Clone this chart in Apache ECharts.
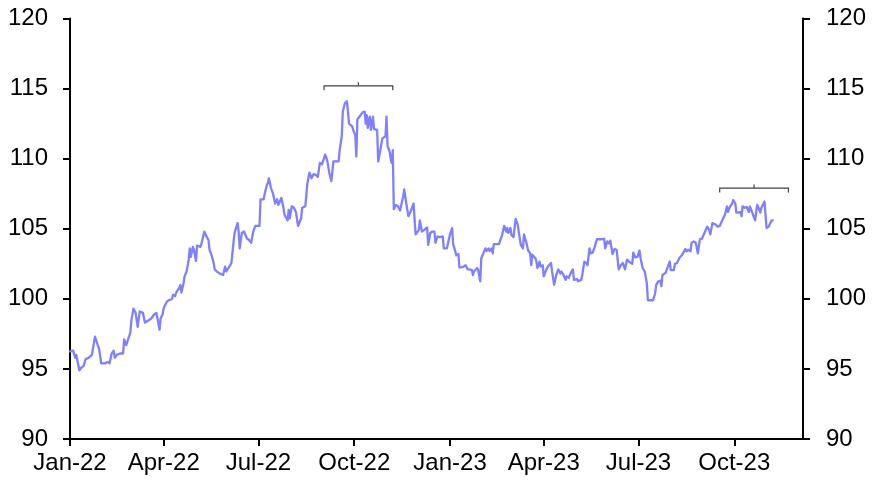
<!DOCTYPE html>
<html>
<head>
<meta charset="utf-8">
<script src="https://cdn.jsdelivr.net/npm/echarts@6/dist/echarts.min.js"></script>
<style>
html,body{margin:0;padding:0;background:#fff;}
#chart{width:873px;height:482px;}
</style>
</head>
<body>
<div id="chart"></div>
<script>
// ---- data ----
const axisStart = '2022-01-01';
const axisEnd = '2023-12-06';
const tickDates = ['2022-01-01','2022-04-01','2022-07-01','2022-10-01','2023-01-01','2023-04-01','2023-07-01','2023-10-01'];
const tickLabels = ['Jan-22','Apr-22','Jul-22','Oct-22','Jan-23','Apr-23','Jul-23','Oct-23'];
const yTicks = [90, 95, 100, 105, 110, 115, 120];

const dates = [
'2022-01-01','2022-01-04','2022-01-06','2022-01-07','2022-01-10','2022-01-12','2022-01-14','2022-01-16','2022-01-19','2022-01-22',
'2022-01-25','2022-01-27','2022-01-29','2022-01-31','2022-02-04','2022-02-06','2022-02-08','2022-02-10','2022-02-12','2022-02-13',
'2022-02-15','2022-02-18','2022-02-21','2022-02-22','2022-02-24','2022-02-25','2022-02-28','2022-03-01','2022-03-03','2022-03-05',
'2022-03-07','2022-03-09','2022-03-12','2022-03-14','2022-03-16','2022-03-20','2022-03-23','2022-03-25','2022-03-28','2022-03-29',
'2022-03-31','2022-04-01','2022-04-04','2022-04-06','2022-04-09','2022-04-10','2022-04-12','2022-04-13','2022-04-16','2022-04-17',
'2022-04-18','2022-04-20','2022-04-21','2022-04-23','2022-04-25','2022-04-26','2022-04-27','2022-04-29','2022-04-30','2022-05-02',
'2022-05-03','2022-05-06','2022-05-07','2022-05-10','2022-05-12','2022-05-14','2022-05-15','2022-05-17','2022-05-19','2022-05-20',
'2022-05-22','2022-05-25','2022-05-28','2022-05-30','2022-05-31','2022-06-03','2022-06-05','2022-06-07','2022-06-08','2022-06-11',
'2022-06-12','2022-06-13','2022-06-15','2022-06-17','2022-06-20','2022-06-22','2022-06-24','2022-06-26','2022-06-28','2022-06-29',
'2022-07-02','2022-07-03','2022-07-06','2022-07-07','2022-07-09','2022-07-10','2022-07-11','2022-07-13','2022-07-15','2022-07-17',
'2022-07-19','2022-07-20','2022-07-23','2022-07-25','2022-07-26','2022-07-29','2022-07-30','2022-07-31','2022-08-02','2022-08-04',
'2022-08-06','2022-08-08','2022-08-11','2022-08-12','2022-08-15','2022-08-17','2022-08-19','2022-08-21','2022-08-23','2022-08-25',
'2022-08-27','2022-08-29','2022-08-31','2022-09-01','2022-09-03','2022-09-05','2022-09-07','2022-09-09','2022-09-11','2022-09-14',
'2022-09-16','2022-09-17','2022-09-19','2022-09-20','2022-09-22','2022-09-24','2022-09-25','2022-09-26','2022-09-29','2022-09-30',
'2022-10-02','2022-10-03','2022-10-04','2022-10-07','2022-10-09','2022-10-11','2022-10-12','2022-10-13','2022-10-14','2022-10-15',
'2022-10-16','2022-10-17','2022-10-19','2022-10-20','2022-10-23','2022-10-24','2022-10-26','2022-10-28','2022-10-31','2022-11-01',
'2022-11-02','2022-11-04','2022-11-05','2022-11-06','2022-11-07','2022-11-08','2022-11-10','2022-11-12','2022-11-14','2022-11-17',
'2022-11-18','2022-11-20','2022-11-22','2022-11-24','2022-11-27','2022-11-28','2022-11-29','2022-12-02','2022-12-03','2022-12-05',
'2022-12-07','2022-12-10','2022-12-11','2022-12-13','2022-12-15','2022-12-17','2022-12-18','2022-12-20','2022-12-22','2022-12-25',
'2022-12-26','2022-12-29','2022-12-30','2023-01-01','2023-01-03','2023-01-04','2023-01-06','2023-01-07','2023-01-09','2023-01-10',
'2023-01-12','2023-01-14','2023-01-16','2023-01-18','2023-01-20','2023-01-22','2023-01-23','2023-01-24','2023-01-27','2023-01-28',
'2023-01-30','2023-01-31','2023-02-02','2023-02-04','2023-02-05','2023-02-07','2023-02-08','2023-02-10','2023-02-11','2023-02-12',
'2023-02-15','2023-02-17','2023-02-20','2023-02-22','2023-02-24','2023-02-25','2023-02-26','2023-02-28','2023-03-01','2023-03-03',
'2023-03-05','2023-03-07','2023-03-09','2023-03-10','2023-03-12','2023-03-13','2023-03-15','2023-03-17','2023-03-19','2023-03-20',
'2023-03-21','2023-03-24','2023-03-25','2023-03-26','2023-03-28','2023-03-29','2023-03-31','2023-04-01','2023-04-03','2023-04-05',
'2023-04-08','2023-04-09','2023-04-11','2023-04-13','2023-04-15','2023-04-17','2023-04-18','2023-04-20','2023-04-22','2023-04-23',
'2023-04-25','2023-04-27','2023-04-29','2023-04-30','2023-05-03','2023-05-04','2023-05-07','2023-05-08','2023-05-10','2023-05-12',
'2023-05-13','2023-05-15','2023-05-16','2023-05-18','2023-05-20','2023-05-22','2023-05-24','2023-05-27','2023-05-29','2023-05-30',
'2023-06-01','2023-06-03','2023-06-04','2023-06-06','2023-06-08','2023-06-10','2023-06-12','2023-06-14','2023-06-16','2023-06-18',
'2023-06-20','2023-06-22','2023-06-25','2023-06-26','2023-06-28','2023-06-30','2023-07-02','2023-07-03','2023-07-05','2023-07-07',
'2023-07-09','2023-07-10','2023-07-13','2023-07-15','2023-07-17','2023-07-18','2023-07-20','2023-07-22','2023-07-23','2023-07-24',
'2023-07-27','2023-07-28','2023-07-31','2023-08-01','2023-08-04','2023-08-05','2023-08-07','2023-08-09','2023-08-12','2023-08-13',
'2023-08-15','2023-08-16','2023-08-18','2023-08-20','2023-08-21','2023-08-23','2023-08-25','2023-08-27','2023-08-29','2023-08-31',
'2023-09-01','2023-09-03','2023-09-05','2023-09-07','2023-09-08','2023-09-10','2023-09-13','2023-09-15','2023-09-17','2023-09-20',
'2023-09-22','2023-09-24','2023-09-25','2023-09-27','2023-09-29','2023-09-30','2023-10-02','2023-10-03','2023-10-05','2023-10-07',
'2023-10-08','2023-10-09','2023-10-11','2023-10-13','2023-10-15','2023-10-16','2023-10-18','2023-10-19','2023-10-21','2023-10-23',
'2023-10-24','2023-10-26','2023-10-27','2023-10-28','2023-10-30','2023-11-01','2023-11-03','2023-11-04','2023-11-06','2023-11-07'
];
const values = [
96.25,96.3,95.8,96.0,94.9,95.1,95.2,95.7,95.8,96.0,
97.3,96.85,96.4,95.4,95.4,95.5,95.4,96.1,96.3,95.8,
96.0,96.1,96.1,97.1,96.7,96.7,97.6,98.5,99.3,99.0,
98.0,99.1,99.0,98.3,98.4,98.6,98.9,99.0,97.8,98.6,
98.9,99.35,99.8,99.9,100.0,100.3,100.2,100.45,100.8,101.0,
100.45,101.1,101.6,101.95,102.8,103.6,103.0,103.7,103.5,102.7,
103.8,103.7,103.85,104.8,104.45,104.2,103.5,103.1,102.55,102.1,
101.95,101.8,101.7,102.3,101.95,102.3,102.55,104.0,104.7,105.4,
104.8,103.6,104.7,104.8,104.3,104.2,104.0,104.8,105.2,105.1,
105.2,107.1,107.1,107.5,108.1,108.25,108.6,107.9,107.5,106.8,
107.1,106.7,107.2,106.5,106.0,105.6,106.35,105.75,106.6,106.5,
106.2,105.2,105.75,106.5,106.6,108.25,109.0,108.6,108.9,108.85,
108.7,109.7,109.6,109.8,110.3,109.9,109.0,108.4,109.8,109.8,
109.8,110.6,111.6,113.35,113.95,114.1,114.1,112.5,112.3,112.05,
111.7,110.15,112.8,113.1,113.3,113.35,112.5,113.1,112.2,112.8,
113.0,112.05,113.0,112.1,112.05,109.8,110.6,111.45,111.6,113.0,
110.9,110.5,110.0,109.7,110.6,106.4,106.7,106.6,106.3,107.3,
107.8,106.8,105.9,106.2,106.8,105.6,104.6,104.9,105.6,104.8,
104.9,105.1,103.85,104.7,104.8,104.8,104.0,104.45,104.4,104.45,
103.6,103.6,103.6,104.6,105.05,103.9,103.4,103.1,103.2,102.25,
102.25,102.3,102.4,102.1,102.1,102.05,101.7,101.95,102.2,102.05,
101.25,102.9,103.25,103.6,103.4,103.6,103.4,103.6,103.25,103.9,
103.9,103.9,104.55,105.2,104.8,105.05,104.7,105.05,104.55,104.4,
105.7,105.3,104.3,103.85,103.6,104.6,104.1,103.45,103.25,102.4,
103.15,102.9,102.65,102.2,102.65,102.3,102.4,101.6,102.0,102.3,
102.55,101.95,101.0,101.7,102.1,101.8,101.95,101.7,101.35,101.6,
101.5,101.85,102.1,101.35,101.4,101.25,101.35,101.7,102.65,102.55,
102.4,103.6,103.25,103.3,103.7,104.25,104.25,104.25,104.3,103.6,
104.1,103.95,104.15,103.2,103.55,103.5,102.1,102.4,102.55,102.1,
102.8,102.65,102.5,103.3,102.95,103.0,103.45,102.9,102.2,101.95,
101.1,99.9,99.9,99.9,100.4,101.0,101.25,101.3,100.9,101.7,
101.85,101.95,102.65,102.05,102.05,102.5,102.55,102.9,103.15,103.25,
103.55,103.4,103.5,103.4,104.0,104.1,104.0,103.25,104.25,104.3,
104.3,104.8,105.15,104.9,104.6,105.4,105.3,105.15,105.2,105.7,
106.0,106.6,106.2,106.6,106.8,107.05,106.8,106.15,106.15,106.2,
105.9,106.6,106.5,106.55,106.2,106.6,106.2,106.0,105.6,106.7,
106.55,106.15,106.5,106.6,106.95,105.05,105.15,105.3,105.6,105.6
];

// bracket annotations
const bracketStarts = ['2022-09-02', '2023-09-17'];
const bracketEnds = ['2022-11-07', '2023-11-22'];
const bracketLevels = [115.2, 107.9];

// ---- build ----
function fmt(d) {
  const m = d.getUTCMonth() + 1, day = d.getUTCDate();
  return d.getUTCFullYear() + '-' + (m < 10 ? '0' : '') + m + '-' + (day < 10 ? '0' : '') + day;
}
const categories = [];
for (let t = Date.parse(axisStart + 'T00:00:00Z'); t <= Date.parse(axisEnd + 'T00:00:00Z'); t += 86400000) {
  categories.push(fmt(new Date(t)));
}
const catIndex = {};
categories.forEach((c, i) => { catIndex[c] = i; });
const lineData = dates.map((d, i) => [catIndex[d], values[i]]);
const bracketData = bracketStarts.map((s, i) => [catIndex[s], catIndex[bracketEnds[i]], bracketLevels[i]]);

const isTick = (idx, val) => tickDates.indexOf(val) >= 0;
const FONT = "'Liberation Sans', Arial, sans-serif";

function yAxisCfg(pos, margin) {
  return {
    type: 'value', position: pos, min: yTicks[0], max: yTicks[yTicks.length - 1], interval: 5,
    axisLine: { show: true, lineStyle: { color: '#000', width: 2 } },
    axisTick: { show: true, length: 7, inside: false, lineStyle: { color: '#000', width: 2 } },
    axisLabel: { fontSize: 24, color: '#000', fontFamily: FONT, margin: margin },
    splitLine: { show: false }
  };
}

const chart = echarts.init(document.getElementById('chart'), null, { renderer: 'canvas' });
chart.setOption({
  animation: false,
  backgroundColor: '#fff',
  grid: { left: 70, right: 70, top: 18.5, bottom: 43, containLabel: false },
  xAxis: {
    type: 'category', data: categories, boundaryGap: false,
    axisLine: { show: true, lineStyle: { color: '#000', width: 2 } },
    axisTick: { show: true, interval: isTick, length: 7, lineStyle: { color: '#000', width: 2 } },
    axisLabel: {
      interval: isTick, fontSize: 24, color: '#000', fontFamily: FONT, margin: 12,
      formatter: (val) => { const k = tickDates.indexOf(val); return k >= 0 ? tickLabels[k] : ''; }
    },
    splitLine: { show: false }
  },
  yAxis: [yAxisCfg('left', 22), yAxisCfg('right', 23)],
  series: [
    {
      type: 'line', data: lineData, yAxisIndex: 0, showSymbol: false, symbol: 'none',
      lineStyle: { color: '#7F7FFF', width: 2.3, join: 'round', cap: 'round' }, itemStyle: { color: '#7F7FFF' }, z: 3
    },
    {
      type: 'custom', yAxisIndex: 0, data: bracketData, z: 4, clip: false,
      encode: { x: [0, 1], y: 2 },
      renderItem: function (params, api) {
        const p1 = api.coord([api.value(0), api.value(2)]);
        const p2 = api.coord([api.value(1), api.value(2)]);
        const mid = (p1[0] + p2[0]) / 2;
        const st = { stroke: '#404040', lineWidth: 1.2, fill: null };
        return {
          type: 'group',
          children: [
            { type: 'polyline', shape: { points: [[p1[0], p1[1] + 4.5], [p1[0], p1[1]], [p2[0], p2[1]], [p2[0], p2[1] + 4.5]] }, style: st },
            { type: 'line', shape: { x1: mid, y1: p1[1], x2: mid, y2: p1[1] - 3.5 }, style: st }
          ]
        };
      }
    }
  ]
});
</script>
</body>
</html>
